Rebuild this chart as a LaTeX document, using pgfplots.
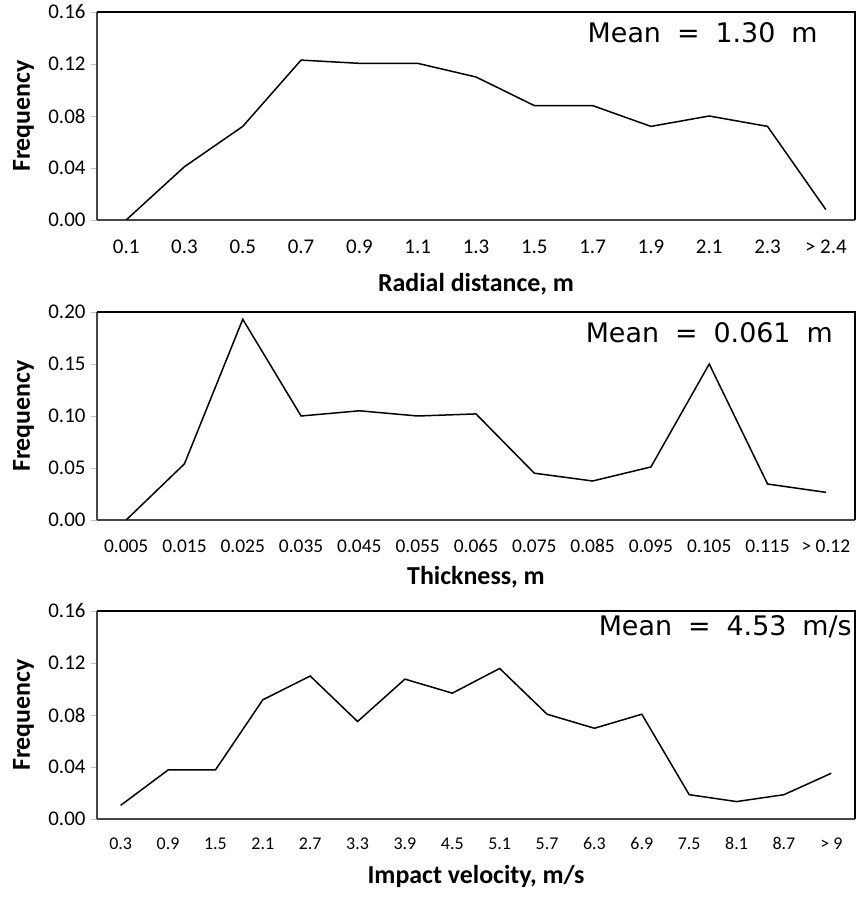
\documentclass[border=0pt]{standalone}
\usepackage{pgfplots}
\pgfplotsset{compat=1.18}
\usepackage{fontspec}
\setmainfont{Carlito}
\newfontfamily\meanfont{DejaVu Sans}

\tikzset{boxtop/.style={black, line width=1.6bp}}

\pgfplotsset{
  freqpanel/.style={
    scale only axis,
    width=758bp, height=208bp,
    anchor=south west,
    axis x line*=bottom, axis y line*=left,
    axis line style={gray!55!black, line width=1.4bp},
    ymin=0,
    xtick=data,
    xtick style={draw=none},
    minor tick style={draw=gray!50, line width=0.8bp},
    minor tick length=6bp,
    major tick length=6bp,
    ytick style={draw=gray!50, line width=0.8bp},
    tick align=outside,
    /pgf/number format/assume math mode=true,
    yticklabel style={font=\fontsize{21}{21}\selectfont, xshift=-2bp,
      /pgf/number format/.cd, fixed, fixed zerofill, precision=2},
    xticklabel style={text height=0.66em, text depth=0pt},
    ylabel={Frequency},
    ylabel style={font=\bfseries\fontsize{26}{26}\selectfont,
      at={(axis description cs:-0.097,0.5)}, anchor=center},
    xlabel style={font=\bfseries\fontsize{26}{26}\selectfont, anchor=center},
    clip=false,
  },
  freqline/.style={black, line width=1.5bp, mark=none},
}

\newcommand{\meanlabel}[3]{%
  \node[anchor=base east, inner sep=0pt, font=\meanfont\fontsize{27}{27}\selectfont]
    at (rel axis cs:#1,#2) {#3};}

\begin{document}
\begin{tikzpicture}
\useasboundingbox (0,0) rectangle (858bp,897bp);

% Radial distance
\begin{axis}[freqpanel,
  at={(97bp,677bp)},
  xmin=-0.5, xmax=12.5,
  ymax=0.16, ytick={0,0.04,0.08,0.12,0.16},
  minor xtick={-0.5,0.5,...,12.5},
  xticklabels={0.1,0.3,0.5,0.7,0.9,1.1,1.3,1.5,1.7,1.9,2.1,2.3,> 2.4},
  xticklabel style={font=\fontsize{21}{21}\selectfont, yshift=-17bp},
  xlabel={Radial distance, m},
  xlabel style={at={(axis description cs:0.5,-0.31)}},
]
\addplot[freqline] coordinates {
  (0,0.000) (1,0.041) (2,0.072) (3,0.123) (4,0.1205) (5,0.1205)
  (6,0.110) (7,0.088) (8,0.088) (9,0.072) (10,0.080) (11,0.072) (12,0.008)
};
\draw[boxtop] (rel axis cs:0,1) -- (rel axis cs:1,1) -- (rel axis cs:1,0);
\meanlabel{0.951}{0.851}{Mean\hspace{16bp}=\hspace{16bp}1.30\hspace{16bp}m}
\end{axis}

% Thickness
\begin{axis}[freqpanel,
  at={(97bp,377bp)},
  xmin=-0.5, xmax=12.5,
  ymax=0.20, ytick={0,0.05,0.10,0.15,0.20},
  minor xtick={-0.5,0.5,...,12.5},
  xticklabels={0.005,0.015,0.025,0.035,0.045,0.055,0.065,0.075,0.085,0.095,0.105,0.115,> 0.12},
  xticklabel style={font=\fontsize{19.5}{19.5}\selectfont, yshift=-16bp},
  xlabel={Thickness, m},
  xlabel style={at={(axis description cs:0.5,-0.274)}},
]
\addplot[freqline] coordinates {
  (0,0.000) (1,0.054) (2,0.193) (3,0.100) (4,0.105) (5,0.100)
  (6,0.102) (7,0.045) (8,0.0375) (9,0.051) (10,0.150) (11,0.0346) (12,0.0266)
};
\draw[boxtop] (rel axis cs:0,1) -- (rel axis cs:1,1) -- (rel axis cs:1,0);
\meanlabel{0.971}{0.851}{Mean\hspace{16bp}=\hspace{16bp}0.061\hspace{16bp}m}
\end{axis}

% Impact velocity
\begin{axis}[freqpanel,
  at={(97bp,78bp)},
  xmin=-0.5, xmax=15.5,
  ymax=0.16, ytick={0,0.04,0.08,0.12,0.16},
  minor xtick={-0.5,0.5,...,15.5},
  xticklabels={0.3,0.9,1.5,2.1,2.7,3.3,3.9,4.5,5.1,5.7,6.3,6.9,7.5,8.1,8.7,> 9},
  xticklabel style={font=\fontsize{18}{18}\selectfont, yshift=-14bp},
  xlabel={Impact velocity, m/s},
  xlabel style={at={(axis description cs:0.5,-0.275)}},
]
\addplot[freqline] coordinates {
  (0,0.0105) (1,0.0377) (2,0.0377) (3,0.0917) (4,0.110) (5,0.075)
  (6,0.1076) (7,0.0968) (8,0.1158) (9,0.0806) (10,0.0698) (11,0.0806)
  (12,0.0187) (13,0.0134) (14,0.0187) (15,0.0352)
};
\draw[boxtop] (rel axis cs:0,1) -- (rel axis cs:1,1) -- (rel axis cs:1,0);
\meanlabel{0.996}{0.88}{Mean\hspace{16bp}=\hspace{16bp}4.53\hspace{16bp}m/s}
\end{axis}
\end{tikzpicture}
\end{document}
